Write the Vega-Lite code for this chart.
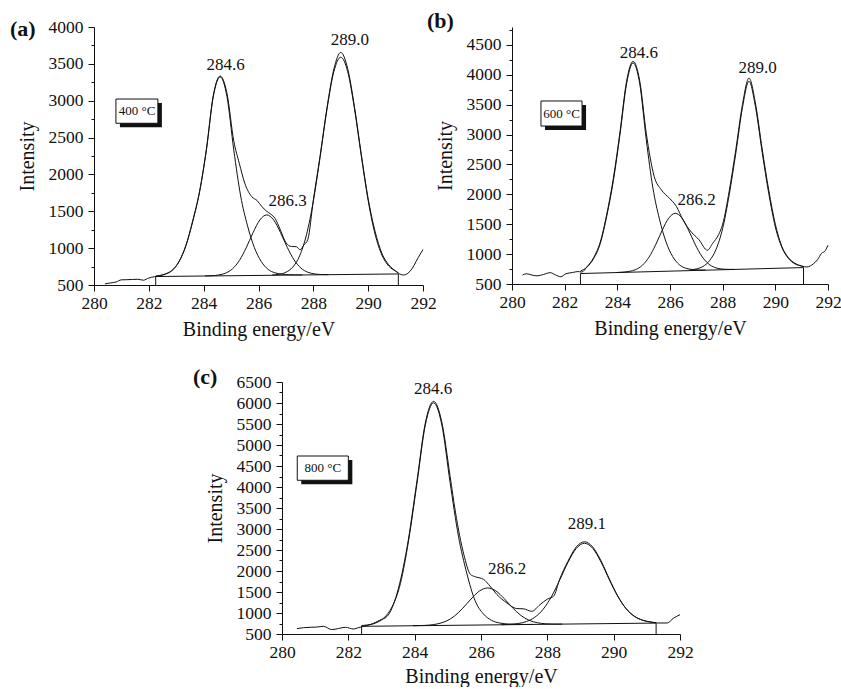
{
  "$schema": "https://vega.github.io/schema/vega-lite/v6.json",
  "padding": {"left": 10, "top": 10, "right": 0, "bottom": 0},
  "spacing": 26,
  "config": {
    "view": {"stroke": null},
    "font": "Liberation Serif",
    "axis": {
      "labelFont": "Liberation Serif", "titleFont": "Liberation Serif",
      "labelFontSize": 17.5, "titleFontSize": 20, "titleFontWeight": "normal",
      "labelColor": "#111", "titleColor": "#111", "domainColor": "#111", "tickColor": "#111",
      "grid": false, "domainWidth": 1, "tickWidth": 1, "labelFlush": false, "labelOverlap": false, "labelBound": false
    },
    "axisX": {"labelPadding": 3, "titlePadding": 8},
    "axisY": {"labelPadding": 5, "titlePadding": 11},
    "title": {"font": "Liberation Serif", "fontSize": 22, "fontWeight": "bold", "anchor": "start", "frame": "group", "color": "#111", "offset": 0}
  },
  "datasets": {
    "a": [
      {"s":"c1","x":282.25,"y":623},{"s":"c1","x":282.6,"y":648},{"s":"c1","x":282.85,"y":698},{"s":"c1","x":283.1,"y":815},{"s":"c1","x":283.35,"y":1030},{"s":"c1","x":283.6,"y":1360},{"s":"c1","x":283.85,"y":1760},{"s":"c1","x":284.1,"y":2330},{"s":"c1","x":284.35,"y":3053},{"s":"c1","x":284.6,"y":3324},{"s":"c1","x":284.85,"y":3055},{"s":"c1","x":285.1,"y":2327},{"s":"c1","x":285.35,"y":1707},{"s":"c1","x":285.6,"y":1303},{"s":"c1","x":285.85,"y":1007},{"s":"c1","x":286.1,"y":819},{"s":"c1","x":286.35,"y":712},{"s":"c1","x":286.6,"y":665},{"s":"c1","x":286.85,"y":647},{"s":"c1","x":287.1,"y":640},{"s":"c1","x":287.35,"y":637},{"s":"c1","x":287.6,"y":636},
      {"s":"c2","x":284.05,"y":623},{"s":"c2","x":284.3,"y":626},{"s":"c2","x":284.55,"y":636},{"s":"c2","x":284.8,"y":661},{"s":"c2","x":285.05,"y":719},{"s":"c2","x":285.3,"y":831},{"s":"c2","x":285.55,"y":1004},{"s":"c2","x":285.8,"y":1209},{"s":"c2","x":286.05,"y":1382},{"s":"c2","x":286.3,"y":1451},{"s":"c2","x":286.55,"y":1384},{"s":"c2","x":286.8,"y":1213},{"s":"c2","x":287.05,"y":1010},{"s":"c2","x":287.3,"y":839},{"s":"c2","x":287.55,"y":729},{"s":"c2","x":287.8,"y":673},{"s":"c2","x":288.05,"y":650},{"s":"c2","x":288.3,"y":642},{"s":"c2","x":288.55,"y":640},
      {"s":"c3","x":286.5,"y":636},{"s":"c3","x":286.75,"y":645},{"s":"c3","x":287.0,"y":673},{"s":"c3","x":287.25,"y":743},{"s":"c3","x":287.5,"y":895},{"s":"c3","x":287.75,"y":1182},{"s":"c3","x":288.0,"y":1637},{"s":"c3","x":288.25,"y":2243},{"s":"c3","x":288.5,"y":2889},{"s":"c3","x":288.75,"y":3397},{"s":"c3","x":289.0,"y":3590},{"s":"c3","x":289.25,"y":3399},{"s":"c3","x":289.5,"y":2893},{"s":"c3","x":289.75,"y":2249},{"s":"c3","x":290.0,"y":1645},{"s":"c3","x":290.25,"y":1192},{"s":"c3","x":290.5,"y":907},{"s":"c3","x":290.75,"y":757},{"s":"c3","x":291.0,"y":689},{"s":"c3","x":291.1,"y":665},
      {"s":"base","x":282.25,"y":615},{"s":"base","x":291.1,"y":650},
      {"s":"raw","x":280.4,"y":515},{"s":"raw","x":280.6,"y":528},{"s":"raw","x":280.8,"y":540},{"s":"raw","x":281.0,"y":570},{"s":"raw","x":281.2,"y":572},{"s":"raw","x":281.4,"y":575},{"s":"raw","x":281.6,"y":578},{"s":"raw","x":281.8,"y":565},{"s":"raw","x":282.0,"y":595},{"s":"raw","x":282.2,"y":612},{"s":"raw","x":282.4,"y":625},{"s":"raw","x":282.6,"y":648},{"s":"raw","x":282.85,"y":700},{"s":"raw","x":283.1,"y":818},{"s":"raw","x":283.35,"y":1035},{"s":"raw","x":283.6,"y":1370},{"s":"raw","x":283.85,"y":1770},{"s":"raw","x":284.1,"y":2345},{"s":"raw","x":284.35,"y":3070},{"s":"raw","x":284.6,"y":3335},{"s":"raw","x":284.85,"y":3100},{"s":"raw","x":285.1,"y":2450},{"s":"raw","x":285.3,"y":2150},{"s":"raw","x":285.5,"y":1880},{"s":"raw","x":285.75,"y":1700},{"s":"raw","x":285.95,"y":1645},{"s":"raw","x":286.12,"y":1565},{"s":"raw","x":286.3,"y":1500},{"s":"raw","x":286.45,"y":1460},{"s":"raw","x":286.6,"y":1405},{"s":"raw","x":286.8,"y":1245},{"s":"raw","x":287.0,"y":1075},{"s":"raw","x":287.2,"y":1022},{"s":"raw","x":287.38,"y":1020},{"s":"raw","x":287.52,"y":978},{"s":"raw","x":287.65,"y":1040},{"s":"raw","x":287.8,"y":1120},{"s":"raw","x":288.0,"y":1650},{"s":"raw","x":288.25,"y":2260},{"s":"raw","x":288.5,"y":2910},{"s":"raw","x":288.75,"y":3430},{"s":"raw","x":289.0,"y":3655},{"s":"raw","x":289.25,"y":3440},{"s":"raw","x":289.5,"y":2920},{"s":"raw","x":289.75,"y":2270},{"s":"raw","x":290.0,"y":1670},{"s":"raw","x":290.25,"y":1230},{"s":"raw","x":290.5,"y":930},{"s":"raw","x":290.75,"y":775},{"s":"raw","x":291.0,"y":690},{"s":"raw","x":291.15,"y":650},{"s":"raw","x":291.3,"y":635},{"s":"raw","x":291.45,"y":660},{"s":"raw","x":291.6,"y":720},{"s":"raw","x":291.75,"y":820},{"s":"raw","x":291.9,"y":920},{"s":"raw","x":292.0,"y":980}
    ],
    "a_lab": [{"x":284.8,"y":3485,"t":"284.6"},{"x":287.06,"y":1640,"t":"286.3"},{"x":289.33,"y":3824,"t":"289.0"}],
    "a_box": [{"x1":280.8,"x2":282.33,"y1":3023,"y2":2694,"tx":281.57,"ty":2858,"t":"400 °C"}],
    "b": [
      {"s":"c1","x":282.6,"y":717},{"s":"c1","x":282.85,"y":783},{"s":"c1","x":283.1,"y":926},{"s":"c1","x":283.35,"y":1174},{"s":"c1","x":283.6,"y":1640},{"s":"c1","x":283.85,"y":2230},{"s":"c1","x":284.1,"y":3000},{"s":"c1","x":284.35,"y":3846},{"s":"c1","x":284.6,"y":4199},{"s":"c1","x":284.85,"y":3852},{"s":"c1","x":285.1,"y":2910},{"s":"c1","x":285.35,"y":2108},{"s":"c1","x":285.6,"y":1585},{"s":"c1","x":285.85,"y":1203},{"s":"c1","x":286.1,"y":961},{"s":"c1","x":286.35,"y":824},{"s":"c1","x":286.6,"y":764},{"s":"c1","x":286.85,"y":743},{"s":"c1","x":287.1,"y":735},{"s":"c1","x":287.35,"y":733},
      {"s":"c2","x":283.95,"y":692},{"s":"c2","x":284.2,"y":698},{"s":"c2","x":284.45,"y":711},{"s":"c2","x":284.7,"y":742},{"s":"c2","x":284.95,"y":813},{"s":"c2","x":285.2,"y":947},{"s":"c2","x":285.45,"y":1151},{"s":"c2","x":285.7,"y":1395},{"s":"c2","x":285.95,"y":1601},{"s":"c2","x":286.2,"y":1683},{"s":"c2","x":286.45,"y":1606},{"s":"c2","x":286.7,"y":1406},{"s":"c2","x":286.95,"y":1168},{"s":"c2","x":287.2,"y":970},{"s":"c2","x":287.45,"y":842},{"s":"c2","x":287.7,"y":777},{"s":"c2","x":287.95,"y":752},{"s":"c2","x":288.2,"y":745},{"s":"c2","x":288.45,"y":744},
      {"s":"c3","x":286.75,"y":733},{"s":"c3","x":287.0,"y":752},{"s":"c3","x":287.25,"y":793},{"s":"c3","x":287.5,"y":890},{"s":"c3","x":287.75,"y":1081},{"s":"c3","x":288.0,"y":1430},{"s":"c3","x":288.25,"y":1998},{"s":"c3","x":288.5,"y":2692},{"s":"c3","x":288.75,"y":3448},{"s":"c3","x":289.0,"y":3891},{"s":"c3","x":289.25,"y":3454},{"s":"c3","x":289.5,"y":2704},{"s":"c3","x":289.75,"y":2016},{"s":"c3","x":290.0,"y":1454},{"s":"c3","x":290.25,"y":1111},{"s":"c3","x":290.5,"y":926},{"s":"c3","x":290.75,"y":835},{"s":"c3","x":291.0,"y":800},{"s":"c3","x":291.07,"y":790},
      {"s":"base","x":282.6,"y":675},{"s":"base","x":291.07,"y":775},
      {"s":"raw","x":280.4,"y":650},{"s":"raw","x":280.55,"y":672},{"s":"raw","x":280.75,"y":650},{"s":"raw","x":280.95,"y":636},{"s":"raw","x":281.2,"y":660},{"s":"raw","x":281.45,"y":690},{"s":"raw","x":281.65,"y":652},{"s":"raw","x":281.85,"y":622},{"s":"raw","x":282.05,"y":672},{"s":"raw","x":282.3,"y":692},{"s":"raw","x":282.5,"y":708},{"s":"raw","x":282.65,"y":700},{"s":"raw","x":282.85,"y":790},{"s":"raw","x":283.1,"y":940},{"s":"raw","x":283.35,"y":1200},{"s":"raw","x":283.6,"y":1670},{"s":"raw","x":283.85,"y":2270},{"s":"raw","x":284.1,"y":3040},{"s":"raw","x":284.35,"y":3890},{"s":"raw","x":284.6,"y":4225},{"s":"raw","x":284.85,"y":3900},{"s":"raw","x":285.1,"y":3020},{"s":"raw","x":285.4,"y":2300},{"s":"raw","x":285.67,"y":2075},{"s":"raw","x":285.98,"y":1935},{"s":"raw","x":286.24,"y":1800},{"s":"raw","x":286.49,"y":1575},{"s":"raw","x":286.74,"y":1405},{"s":"raw","x":287.1,"y":1240},{"s":"raw","x":287.42,"y":1065},{"s":"raw","x":287.62,"y":1180},{"s":"raw","x":287.85,"y":1330},{"s":"raw","x":288.0,"y":1500},{"s":"raw","x":288.25,"y":2060},{"s":"raw","x":288.5,"y":2750},{"s":"raw","x":288.75,"y":3500},{"s":"raw","x":289.0,"y":3945},{"s":"raw","x":289.25,"y":3510},{"s":"raw","x":289.5,"y":2760},{"s":"raw","x":289.75,"y":2070},{"s":"raw","x":290.0,"y":1500},{"s":"raw","x":290.25,"y":1125},{"s":"raw","x":290.5,"y":940},{"s":"raw","x":290.75,"y":845},{"s":"raw","x":291.0,"y":800},{"s":"raw","x":291.2,"y":785},{"s":"raw","x":291.45,"y":840},{"s":"raw","x":291.6,"y":905},{"s":"raw","x":291.75,"y":1010},{"s":"raw","x":291.9,"y":1060},{"s":"raw","x":292.0,"y":1150}
    ],
    "b_lab": [{"x":284.82,"y":4360,"t":"284.6"},{"x":287.01,"y":1905,"t":"286.2"},{"x":289.33,"y":4109,"t":"289.0"}],
    "b_box": [{"x1":281.1,"x2":282.66,"y1":3562,"y2":3143,"tx":281.88,"ty":3352,"t":"600 °C"}],
    "c": [
      {"s":"c1","x":282.4,"y":700},{"s":"c1","x":282.57,"y":715},{"s":"c1","x":282.82,"y":760},{"s":"c1","x":283.07,"y":880},{"s":"c1","x":283.32,"y":1150},{"s":"c1","x":283.57,"y":1700},{"s":"c1","x":283.82,"y":2740},{"s":"c1","x":284.07,"y":4090},{"s":"c1","x":284.32,"y":5470},{"s":"c1","x":284.57,"y":6002},{"s":"c1","x":284.82,"y":5474},{"s":"c1","x":285.07,"y":4098},{"s":"c1","x":285.32,"y":2829},{"s":"c1","x":285.57,"y":1950},{"s":"c1","x":285.82,"y":1296},{"s":"c1","x":286.07,"y":980},{"s":"c1","x":286.32,"y":823},{"s":"c1","x":286.57,"y":761},{"s":"c1","x":286.82,"y":737},{"s":"c1","x":287.07,"y":729},{"s":"c1","x":287.32,"y":728},{"s":"c1","x":287.57,"y":728},
      {"s":"c2","x":283.95,"y":698},{"s":"c2","x":284.2,"y":702},{"s":"c2","x":284.45,"y":713},{"s":"c2","x":284.7,"y":743},{"s":"c2","x":284.95,"y":806},{"s":"c2","x":285.2,"y":927},{"s":"c2","x":285.45,"y":1113},{"s":"c2","x":285.7,"y":1334},{"s":"c2","x":285.95,"y":1521},{"s":"c2","x":286.2,"y":1596},{"s":"c2","x":286.45,"y":1525},{"s":"c2","x":286.7,"y":1342},{"s":"c2","x":286.95,"y":1125},{"s":"c2","x":287.2,"y":944},{"s":"c2","x":287.45,"y":827},{"s":"c2","x":287.7,"y":768},{"s":"c2","x":287.95,"y":743},{"s":"c2","x":288.2,"y":736},{"s":"c2","x":288.45,"y":736},
      {"s":"c3","x":286.62,"y":721},{"s":"c3","x":286.87,"y":730},{"s":"c3","x":287.12,"y":749},{"s":"c3","x":287.37,"y":797},{"s":"c3","x":287.62,"y":897},{"s":"c3","x":287.87,"y":1085},{"s":"c3","x":288.12,"y":1384},{"s":"c3","x":288.37,"y":1779},{"s":"c3","x":288.62,"y":2202},{"s":"c3","x":288.87,"y":2534},{"s":"c3","x":289.12,"y":2661},{"s":"c3","x":289.37,"y":2539},{"s":"c3","x":289.62,"y":2211},{"s":"c3","x":289.87,"y":1792},{"s":"c3","x":290.12,"y":1401},{"s":"c3","x":290.37,"y":1107},{"s":"c3","x":290.62,"y":923},{"s":"c3","x":290.87,"y":828},{"s":"c3","x":291.12,"y":784},{"s":"c3","x":291.28,"y":770},
      {"s":"base","x":282.4,"y":683},{"s":"base","x":291.28,"y":760},
      {"s":"raw","x":280.45,"y":629},{"s":"raw","x":280.65,"y":650},{"s":"raw","x":280.85,"y":660},{"s":"raw","x":281.05,"y":665},{"s":"raw","x":281.25,"y":683},{"s":"raw","x":281.5,"y":605},{"s":"raw","x":281.7,"y":630},{"s":"raw","x":281.91,"y":660},{"s":"raw","x":282.16,"y":619},{"s":"raw","x":282.3,"y":650},{"s":"raw","x":282.46,"y":683},{"s":"raw","x":282.71,"y":738},{"s":"raw","x":282.95,"y":830},{"s":"raw","x":283.17,"y":920},{"s":"raw","x":283.47,"y":1470},{"s":"raw","x":283.77,"y":2560},{"s":"raw","x":284.07,"y":4150},{"s":"raw","x":284.32,"y":5520},{"s":"raw","x":284.57,"y":6040},{"s":"raw","x":284.82,"y":5540},{"s":"raw","x":285.07,"y":4250},{"s":"raw","x":285.23,"y":3400},{"s":"raw","x":285.48,"y":2400},{"s":"raw","x":285.68,"y":1920},{"s":"raw","x":285.8,"y":1870},{"s":"raw","x":286.08,"y":1800},{"s":"raw","x":286.23,"y":1680},{"s":"raw","x":286.48,"y":1440},{"s":"raw","x":286.78,"y":1240},{"s":"raw","x":287.08,"y":1105},{"s":"raw","x":287.28,"y":1100},{"s":"raw","x":287.53,"y":1040},{"s":"raw","x":287.78,"y":1200},{"s":"raw","x":288.0,"y":1330},{"s":"raw","x":288.19,"y":1400},{"s":"raw","x":288.37,"y":1800},{"s":"raw","x":288.62,"y":2230},{"s":"raw","x":288.87,"y":2570},{"s":"raw","x":289.12,"y":2695},{"s":"raw","x":289.37,"y":2570},{"s":"raw","x":289.62,"y":2240},{"s":"raw","x":289.87,"y":1810},{"s":"raw","x":290.12,"y":1410},{"s":"raw","x":290.37,"y":1110},{"s":"raw","x":290.62,"y":925},{"s":"raw","x":290.87,"y":830},{"s":"raw","x":291.12,"y":785},{"s":"raw","x":291.31,"y":762},{"s":"raw","x":291.61,"y":762},{"s":"raw","x":291.81,"y":880},{"s":"raw","x":292.0,"y":960}
    ],
    "c_lab": [{"x":284.56,"y":6326,"t":"284.6"},{"x":286.79,"y":2055,"t":"286.2"},{"x":289.19,"y":3126,"t":"289.1"}],
    "c_box": [{"x1":280.46,"x2":282.0,"y1":4738,"y2":4160,"tx":281.23,"ty":4449,"t":"800 °C"}]
  },
  "vconcat": [
    {
      "hconcat": [
        {
          "width": 329, "height": 258,
          "title": {"text": "(a)", "dx": -84, "dy": 27},
          "resolve": {"axis": {"y": "independent"}},
          "layer": [
            {"data": {"name": "a"}, "mark": {"type": "line", "strokeWidth": 1, "color": "#111", "interpolate": "monotone"},
             "encoding": {
               "x": {"field": "x", "type": "quantitative", "title": "Binding energy/eV", "scale": {"domain": [280, 292], "nice": false, "zero": false},
                     "axis": {"values": [280,281,282,283,284,285,286,287,288,289,290,291,292], "format": "d", "labelOverlap": false, "labelExpr": "datum.value % 2 === 0 ? datum.label : ''", "labelFontSize": {"condition": {"test": "datum.value % 2 !== 0", "value": 0}, "value": 17.5}, "tickSize": {"condition": {"test": "datum.value % 2 === 0", "value": 6}, "value": 3}}},
               "y": {"field": "y", "type": "quantitative", "title": "Intensity", "scale": {"domain": [500, 4000], "nice": false, "zero": false},
                     "axis": {"orient": "left", "values": [500,1000,1500,2000,2500,3000,3500,4000], "format": "d", "tickSize": 6}},
               "detail": {"field": "s"}
             }},
            {"data": {"name": "a"}, "transform": [{"filter": "datum.s === 'base'"}], "mark": {"type": "rule", "strokeWidth": 1, "color": "#111"},
             "encoding": {"x": {"field": "x", "type": "quantitative"}, "y": {"field": "y", "type": "quantitative", "axis": {"orient": "left", "values": [750,1250,1750,2250,2750,3250,3750], "labels": false, "domain": false, "tickSize": 3, "title": null}}, "y2": {"datum": 500}}},
            {"data": {"name": "a_box"}, "mark": {"type": "rect", "fill": "#111", "xOffset": 4, "x2Offset": 4, "yOffset": 4, "y2Offset": 4},
             "encoding": {"x": {"field": "x1", "type": "quantitative"}, "x2": {"field": "x2"}, "y": {"field": "y1", "type": "quantitative", "axis": null}, "y2": {"field": "y2"}}},
            {"data": {"name": "a_box"}, "mark": {"type": "rect", "fill": "white", "stroke": "#111", "strokeWidth": 1},
             "encoding": {"x": {"field": "x1", "type": "quantitative"}, "x2": {"field": "x2"}, "y": {"field": "y1", "type": "quantitative", "axis": null}, "y2": {"field": "y2"}}},
            {"data": {"name": "a_box"}, "mark": {"type": "text", "font": "Liberation Serif", "fontSize": 13, "color": "#111", "align": "center", "baseline": "middle"},
             "encoding": {"x": {"field": "tx", "type": "quantitative"}, "y": {"field": "ty", "type": "quantitative", "axis": null}, "text": {"field": "t"}}},
            {"data": {"name": "a_lab"}, "mark": {"type": "text", "font": "Liberation Serif", "fontSize": 17, "color": "#111", "align": "center", "baseline": "middle"},
             "encoding": {"x": {"field": "x", "type": "quantitative"}, "y": {"field": "y", "type": "quantitative", "axis": null}, "text": {"field": "t"}}}
          ]
        },
        {
          "width": 316, "height": 257,
          "title": {"text": "(b)", "dx": -85, "dy": 10},
          "resolve": {"axis": {"y": "independent"}},
          "layer": [
            {"data": {"name": "b"}, "mark": {"type": "line", "strokeWidth": 1, "color": "#111", "interpolate": "monotone"},
             "encoding": {
               "x": {"field": "x", "type": "quantitative", "title": "Binding energy/eV", "scale": {"domain": [280, 292], "nice": false, "zero": false},
                     "axis": {"values": [280,281,282,283,284,285,286,287,288,289,290,291,292], "format": "d", "labelOverlap": false, "labelExpr": "datum.value % 2 === 0 ? datum.label : ''", "labelFontSize": {"condition": {"test": "datum.value % 2 !== 0", "value": 0}, "value": 17.5}, "tickSize": {"condition": {"test": "datum.value % 2 === 0", "value": 6}, "value": 3}}},
               "y": {"field": "y", "type": "quantitative", "title": "Intensity", "scale": {"domain": [500, 4800], "nice": false, "zero": false},
                     "axis": {"orient": "left", "values": [500,1000,1500,2000,2500,3000,3500,4000,4500], "format": "d", "tickSize": 6}},
               "detail": {"field": "s"}
             }},
            {"data": {"name": "b"}, "transform": [{"filter": "datum.s === 'base'"}], "mark": {"type": "rule", "strokeWidth": 1, "color": "#111"},
             "encoding": {"x": {"field": "x", "type": "quantitative"}, "y": {"field": "y", "type": "quantitative", "axis": {"orient": "left", "values": [750,1250,1750,2250,2750,3250,3750,4250,4750], "labels": false, "domain": false, "tickSize": 3, "title": null}}, "y2": {"datum": 500}}},
            {"data": {"name": "b_box"}, "mark": {"type": "rect", "fill": "#111", "xOffset": 4, "x2Offset": 4, "yOffset": 4, "y2Offset": 4},
             "encoding": {"x": {"field": "x1", "type": "quantitative"}, "x2": {"field": "x2"}, "y": {"field": "y1", "type": "quantitative", "axis": null}, "y2": {"field": "y2"}}},
            {"data": {"name": "b_box"}, "mark": {"type": "rect", "fill": "white", "stroke": "#111", "strokeWidth": 1},
             "encoding": {"x": {"field": "x1", "type": "quantitative"}, "x2": {"field": "x2"}, "y": {"field": "y1", "type": "quantitative", "axis": null}, "y2": {"field": "y2"}}},
            {"data": {"name": "b_box"}, "mark": {"type": "text", "font": "Liberation Serif", "fontSize": 13, "color": "#111", "align": "center", "baseline": "middle"},
             "encoding": {"x": {"field": "tx", "type": "quantitative"}, "y": {"field": "ty", "type": "quantitative", "axis": null}, "text": {"field": "t"}}},
            {"data": {"name": "b_lab"}, "mark": {"type": "text", "font": "Liberation Serif", "fontSize": 17, "color": "#111", "align": "center", "baseline": "middle"},
             "encoding": {"x": {"field": "x", "type": "quantitative"}, "y": {"field": "y", "type": "quantitative", "axis": null}, "text": {"field": "t"}}}
          ]
        }
      ],
      "spacing": 89,
      "bounds": "flush"
    },
    {
      "hconcat": [
        {"width": 10, "height": 10, "data": {"values": []}, "mark": "point"},
        {
          "width": 398, "height": 252,
          "title": {"text": "(c)", "dx": -89, "dy": 20},
          "resolve": {"axis": {"y": "independent"}},
          "layer": [
            {"data": {"name": "c"}, "mark": {"type": "line", "strokeWidth": 1, "color": "#111", "interpolate": "monotone"},
             "encoding": {
               "x": {"field": "x", "type": "quantitative", "title": "Binding energy/eV", "scale": {"domain": [280, 292], "nice": false, "zero": false},
                     "axis": {"values": [280,281,282,283,284,285,286,287,288,289,290,291,292], "format": "d", "titlePadding": 6, "labelOverlap": false, "labelExpr": "datum.value % 2 === 0 ? datum.label : ''", "labelFontSize": {"condition": {"test": "datum.value % 2 !== 0", "value": 0}, "value": 17.5}, "tickSize": {"condition": {"test": "datum.value % 2 === 0", "value": 6}, "value": 3}}},
               "y": {"field": "y", "type": "quantitative", "title": "Intensity", "scale": {"domain": [500, 6500], "nice": false, "zero": false},
                     "axis": {"orient": "left", "values": [500,1000,1500,2000,2500,3000,3500,4000,4500,5000,5500,6000,6500], "format": "d", "tickSize": 6}},
               "detail": {"field": "s"}
             }},
            {"data": {"name": "c"}, "transform": [{"filter": "datum.s === 'base'"}], "mark": {"type": "rule", "strokeWidth": 1, "color": "#111"},
             "encoding": {"x": {"field": "x", "type": "quantitative"}, "y": {"field": "y", "type": "quantitative", "axis": {"orient": "left", "values": [750,1250,1750,2250,2750,3250,3750,4250,4750,5250,5750,6250], "labels": false, "domain": false, "tickSize": 3, "title": null}}, "y2": {"datum": 500}}},
            {"data": {"name": "c_box"}, "mark": {"type": "rect", "fill": "#111", "xOffset": 4, "x2Offset": 4, "yOffset": 4, "y2Offset": 4},
             "encoding": {"x": {"field": "x1", "type": "quantitative"}, "x2": {"field": "x2"}, "y": {"field": "y1", "type": "quantitative", "axis": null}, "y2": {"field": "y2"}}},
            {"data": {"name": "c_box"}, "mark": {"type": "rect", "fill": "white", "stroke": "#111", "strokeWidth": 1},
             "encoding": {"x": {"field": "x1", "type": "quantitative"}, "x2": {"field": "x2"}, "y": {"field": "y1", "type": "quantitative", "axis": null}, "y2": {"field": "y2"}}},
            {"data": {"name": "c_box"}, "mark": {"type": "text", "font": "Liberation Serif", "fontSize": 13, "color": "#111", "align": "center", "baseline": "middle"},
             "encoding": {"x": {"field": "tx", "type": "quantitative"}, "y": {"field": "ty", "type": "quantitative", "axis": null}, "text": {"field": "t"}}},
            {"data": {"name": "c_lab"}, "mark": {"type": "text", "font": "Liberation Serif", "fontSize": 17, "color": "#111", "align": "center", "baseline": "middle"},
             "encoding": {"x": {"field": "x", "type": "quantitative"}, "y": {"field": "y", "type": "quantitative", "axis": null}, "text": {"field": "t"}}}
          ]
        }
      ],
      "spacing": 178,
      "bounds": "flush"
    }
  ]
}
